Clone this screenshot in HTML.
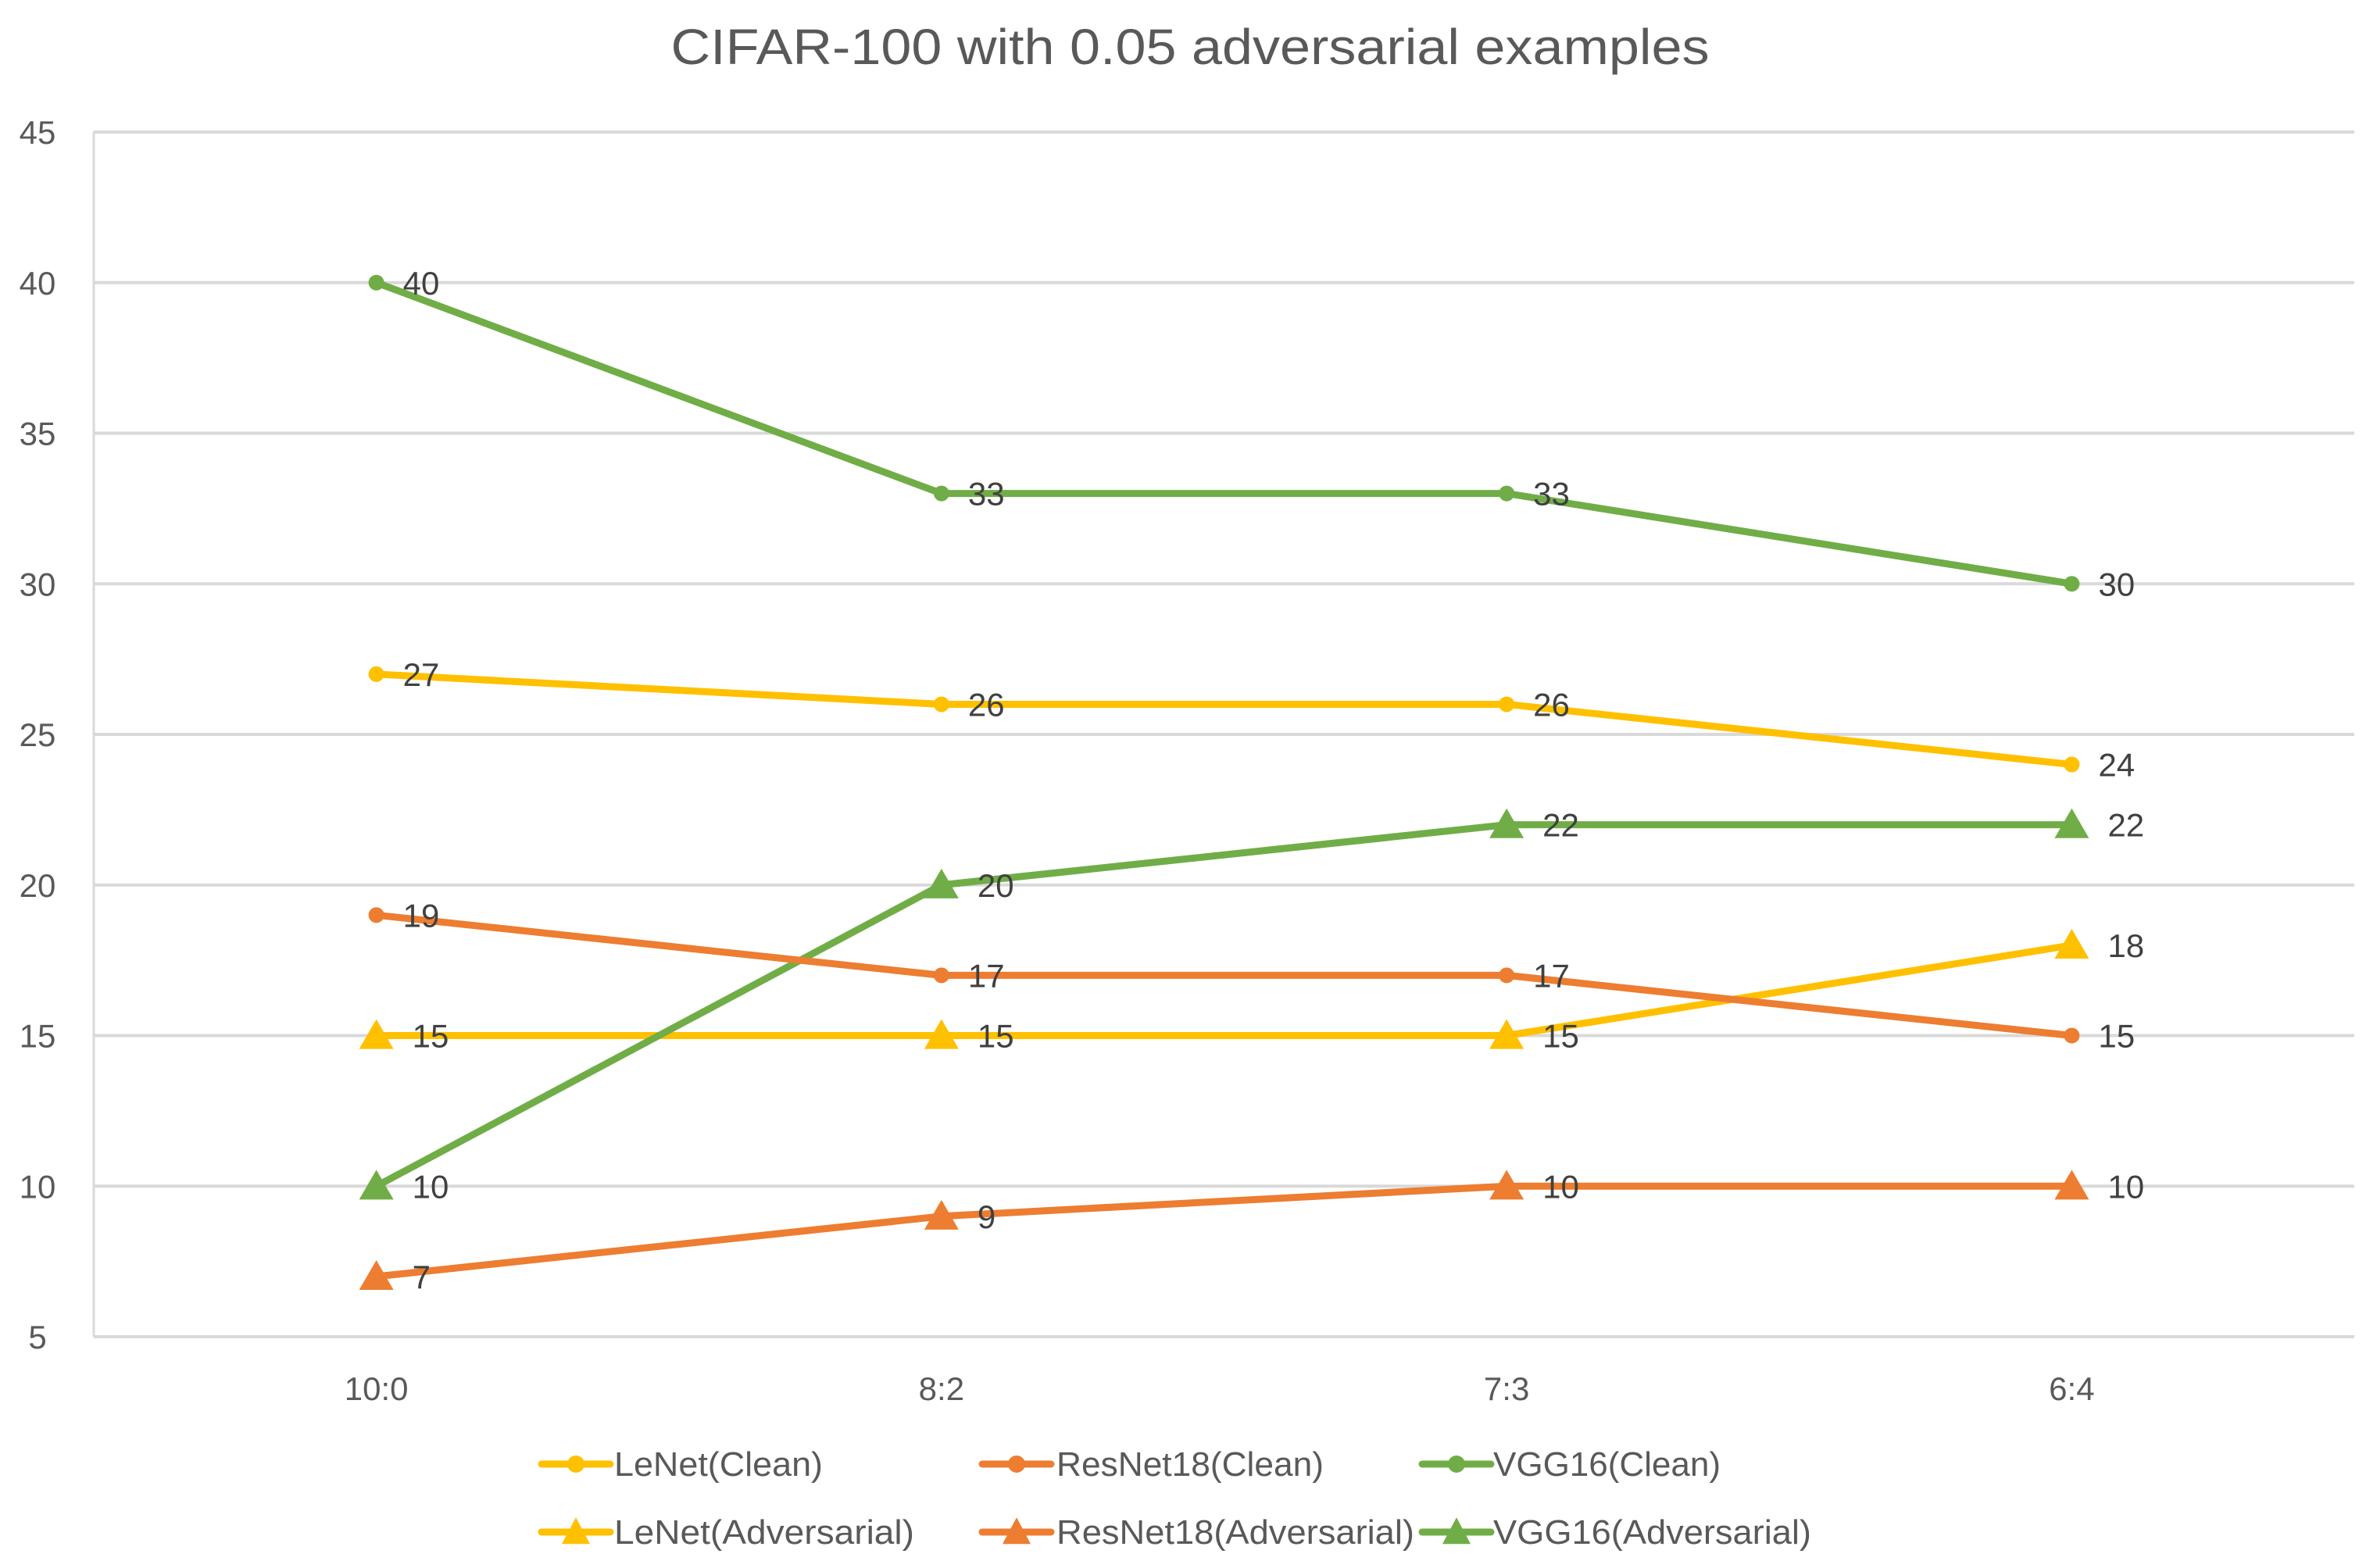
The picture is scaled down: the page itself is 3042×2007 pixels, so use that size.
<!DOCTYPE html>
<html><head><meta charset="utf-8"><style>
html,body{margin:0;padding:0;background:#fff;}
svg{display:block;font-family:"Liberation Sans",sans-serif;}
</style></head><body>
<svg id="chart" width="3042" height="2007" viewBox="0 0 3042 2007" xmlns="http://www.w3.org/2000/svg">
<rect width="3042" height="2007" fill="#fff"/>
<text x="1523" y="82" text-anchor="middle" font-size="64" fill="#595959" textLength="1329" lengthAdjust="spacingAndGlyphs">CIFAR-100 with 0.05 adversarial examples</text>
<g id="grid"></g><g id="series"></g><g id="legend"></g>
</svg>
<script>
const categories = ["10:0","8:2","7:3","6:4"];
const yTicks = [5,10,15,20,25,30,35,40,45];
const seriesNames = ["LeNet(Clean)","ResNet18(Clean)","VGG16(Clean)","LeNet(Adversarial)","ResNet18(Adversarial)","VGG16(Adversarial)"];
const lenetClean = [27,26,26,24];
const resnetClean = [19,17,17,15];
const vggClean = [40,33,33,30];
const lenetAdv = [15,15,15,18];
const resnetAdv = [7,9,10,10];
const vggAdv = [10,20,22,22];

const NS="http://www.w3.org/2000/svg";
const L=120,R=3013,T=169,B=1711,yMin=5,yMax=45;
function y(v){return B-(v-yMin)/(yMax-yMin)*(B-T);}
function x(i){const w=(R-L)/categories.length;return L+w*(i+0.5);}
function mk(tag,attrs,parent){const e=document.createElementNS(NS,tag);for(const k in attrs)e.setAttribute(k,attrs[k]);parent.appendChild(e);return e;}
const grid=document.getElementById('grid'),ser=document.getElementById('series'),leg=document.getElementById('legend');
yTicks.forEach(t=>{
  const ln=mk('line',{x1:L,x2:R,y1:y(t),y2:y(t),stroke:'#d9d9d9','stroke-width':4},grid);
  
  
  const tx=mk('text',{x:48,y:y(t)+15,'text-anchor':'middle','font-size':42,fill:'#595959'},grid);
  tx.textContent=t;
  
  
});
const ax=mk('line',{x1:L,x2:L,y1:T,y2:B,stroke:'#d9d9d9','stroke-width':3},grid);


categories.forEach((c,i)=>{
  const tx=mk('text',{x:x(i),y:1792,'text-anchor':'middle','font-size':42,fill:'#595959'},grid);
  tx.textContent=c;
  
  
});
const Y='#FFC000',O='#ED7D31',G='#70AD47';
const defs=[
 {data:lenetClean,color:Y,m:'c'},{data:resnetClean,color:O,m:'c'},{data:vggClean,color:G,m:'c'},
 {data:lenetAdv,color:Y,m:'t'},{data:resnetAdv,color:O,m:'t'},{data:vggAdv,color:G,m:'t'}];
function marker(type,cx,cy,color,parent,big){
  if(type==='c'){return mk('circle',{cx:cx,cy:cy,r:big?10:11,fill:color},parent);}
  const h=big?38:34,w=big?44:36;
  return mk('polygon',{points:`${cx},${cy-h*0.55} ${cx+w/2},${cy+h*0.45} ${cx-w/2},${cy+h*0.45}`,fill:color},parent);
}
const order=[3,4,5,0,1,2];
order.forEach(si=>{
  const s=defs[si];
  const g=mk('g',{},ser);
  
  
  const pts=s.data.map((v,i)=>x(i)+','+y(v)).join(' ');
  const pl=mk('polyline',{points:pts,fill:'none',stroke:s.color,'stroke-width':9,'stroke-linejoin':'round','stroke-linecap':'round'},g);
  
  
  s.data.forEach((v,i)=>{
    const m=marker(s.m,x(i),y(v),s.color,g,true);
    
    
    const t=mk('text',{x:x(i)+(s.m==='t'?46:34),y:y(v)+15,'font-size':42,fill:'#404040'},g);
    t.textContent=v;
    
    
  });
});
const legX=[693,1257,1820],legTextX=[786,1352,1911],legY=[1874,1961];
const legW=[267,342,291,384,458,407];
seriesNames.forEach((n,i)=>{
  const col=i%3,row=Math.floor(i/3),s=defs[i];
  const g=mk('g',{},leg);
  
  
  const ly=legY[row];
  mk('line',{x1:legX[col],x2:legX[col]+88,y1:ly,y2:ly,stroke:s.color,'stroke-width':9,'stroke-linecap':'round'},g);
  const m=marker(s.m,legX[col]+44,ly,s.color,g,false);
  
  
  const t=mk('text',{x:legTextX[col],y:ly+15,'font-size':44,fill:'#595959',textLength:legW[i],lengthAdjust:'spacingAndGlyphs'},g);
  t.textContent=n;
  
  
});
</script>
</body></html>
